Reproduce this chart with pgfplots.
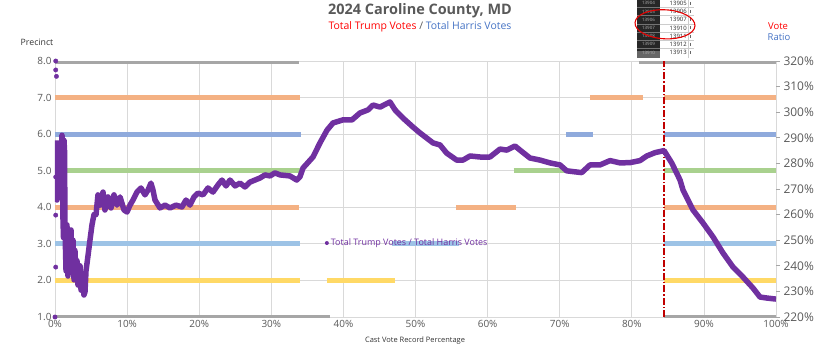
\documentclass[border=0pt]{standalone}
\usepackage{pgfplots}
\pgfplotsset{compat=1.18}
\usepackage{fontspec}
\setmainfont{Open Sans}
\definecolor{txt}{HTML}{595959}
\definecolor{gridc}{HTML}{D9D9D9}
\definecolor{pgray}{HTML}{A6A6A6}
\definecolor{psalmon}{HTML}{F4B183}
\definecolor{pblue}{HTML}{8FAADC}
\definecolor{pgreen}{HTML}{A9D18E}
\definecolor{plblue}{HTML}{9DC3E6}
\definecolor{pyellow}{HTML}{FFD966}
\definecolor{ppurple}{HTML}{7030A0}
\definecolor{pred}{HTML}{C00000}
\definecolor{ttrump}{HTML}{FF0000}
\definecolor{tharris}{HTML}{4472C4}
\begin{document}
\begin{tikzpicture}[x=1bp,y=1bp]
\path[use as bounding box] (-55,-37) rectangle (767,317);
% ---------- left axis: precinct bars ----------
\begin{axis}[
  at={(0,0)}, anchor=south west,
  scale only axis, width=721bp, height=256bp,
  xmin=0, xmax=100, ymin=1, ymax=8,
  xtick={0,10,...,100}, ytick={1,...,8},
  /pgf/number format/assume math mode=true,
  xticklabel={\pgfmathprintnumber{\tick}\%},
  yticklabel style={/pgf/number format/.cd, fixed, fixed zerofill, precision=1},
  ticklabel style={font=\fontsize{10}{12}\selectfont, text=txt},
  grid=major, major grid style={draw=gridc, line width=0.8bp},
  axis line style={draw=none}, tick style={draw=none},
  unbounded coords=jump,
  every axis plot/.append style={line width=5bp, line cap=butt},
]
\addplot[pgray] coordinates {(0,1) (38.1,1) (nan,nan) (84.4,1) (100,1)};
\addplot[pyellow] coordinates {(0,2) (34.0,2) (nan,nan) (37.7,2) (47.2,2) (nan,nan) (84.5,2) (100,2)};
\addplot[plblue] coordinates {(0,3) (34.0,3) (nan,nan) (46.7,3) (56.0,3) (nan,nan) (84.5,3) (100,3)};
\addplot[psalmon] coordinates {(0,4) (33.9,4) (nan,nan) (55.6,4) (64.0,4) (nan,nan) (84.5,4) (100,4)};
\addplot[pgreen] coordinates {(0,5) (34.0,5) (nan,nan) (63.6,5) (71.0,5) (nan,nan) (84.5,5) (100,5)};
\addplot[pblue] coordinates {(0,6) (34.1,6) (nan,nan) (70.9,6) (74.6,6) (nan,nan) (84.5,6) (100,6)};
\addplot[psalmon] coordinates {(0,7) (34.0,7) (nan,nan) (74.2,7) (81.5,7) (nan,nan) (84.5,7) (100,7)};
\addplot[pgray] coordinates {(0,8) (33.9,8) (nan,nan) (81.0,8) (100,8)};
\end{axis}
% ---------- right axis: vote ratio ----------
\begin{axis}[
  at={(0,0)}, anchor=south west,
  scale only axis, width=721bp, height=256bp,
  xmin=0, xmax=100, ymin=220, ymax=320,
  axis x line=none, axis y line*=right,
  y axis line style={draw=none},
  ytick={220,230,...,320},
  /pgf/number format/assume math mode=true,
  yticklabel={\pgfmathprintnumber{\tick}\%},
  ticklabel style={font=\fontsize{12}{14}\selectfont, text=txt},
  tick align=outside, major tick length=4bp,
  ytick style={draw=pgray, line width=0.8bp},
  legend style={at={(0.374,0.289)}, anchor=west, draw=none, fill=none,
    font=\fontsize{9}{10}\selectfont, text=ppurple, inner sep=0pt},
  legend cell align=left,
]
\addplot[pred, line width=2.2bp, dash pattern=on 7bp off 2bp on 1.5bp off 2bp, forget plot]
  coordinates {(84.5,220) (84.5,320)};
\addplot[only marks, mark=*, mark size=2.2bp, color=ppurple, forget plot]
  coordinates {(0.1,320) (0.1,316.5) (0.2,314) (0.0,220) (0.1,239.5) (0.1,259.8) (0.1,274.7)};
\addplot[color=ppurple, line width=5.5bp, line join=round,
  legend image code/.code={\path[fill=ppurple, draw=none] (0.12cm,0cm) circle (2bp);}]
  coordinates {
(0.14,289) (0.28,265.7) (0.42,285) (0.55,277) (0.69,287) (0.83,267.7) (0.97,291)
(1.04,285) (1.11,258) (1.18,251) (1.25,289) (1.32,285) (1.39,254) (1.53,238)
(1.66,256) (1.80,236) (1.94,253) (2.08,240) (2.22,254) (2.36,238) (2.50,250)
(2.64,234.5) (2.77,246) (2.91,236) (3.05,242) (3.19,232.5) (3.47,240) (3.61,230.5)
(3.74,236) (4.02,228.6) (4.16,229.8) (4.30,238) (4.58,244) (4.85,250) (5.13,256)
(5.41,260) (5.69,260) (5.96,267.7) (6.24,263.7) (6.66,268.8) (6.93,261.8) (7.35,266.9)
(7.77,262.6) (8.18,267.7) (8.60,263.7) (9.02,266.9) (9.57,261.8) (9.99,261) (10.40,263.7)
(10.82,265.7) (11.37,268.8) (11.93,270.4) (12.48,267.7) (12.90,269.6) (13.31,272.3)
(13.59,269.6) (13.87,265.7) (14.56,262.6) (15.26,263.7) (15.95,262.6) (16.78,263.7)
(17.61,263) (18.17,265.7) (18.72,263.7) (19.28,266.9) (19.83,268.4) (20.53,267.7)
(21.22,270.4) (21.91,268.8) (22.61,271.6) (23.16,273.5) (23.72,271.2) (24.27,273.5)
(24.97,271.2) (25.66,272.3) (26.35,270.8) (27.05,272.7) (27.74,273.5) (28.43,274.3)
(29.13,275.5) (29.82,275.1) (30.51,276.3) (31.21,275.5) (32.59,275.1) (33.52,273.5)
(33.98,274.8) (34.40,278.2) (35.78,282.5) (36.75,288) (37.73,293) (38.56,295.8)
(39.94,297) (41.19,297) (42.30,299.7) (43.41,300.9) (44.11,302.8) (45.08,302)
(46.46,304) (47.16,300.9) (48.27,297.7) (49.65,294.2) (50.62,291.9) (51.55,289.9)
(52.43,288) (53.40,287.2) (54.33,284) (55.71,281.3) (56.59,281.3) (57.56,282.9)
(58.95,282.5) (60.33,282.5) (61.72,285.6) (62.65,285.2) (63.80,286.8) (64.49,285.2)
(65.88,282.1) (67.27,281.3) (68.65,280.2) (70.04,279.4) (70.97,277.1) (71.84,276.8)
(73.05,276.4) (74.20,279.4) (75.59,279.4) (76.98,281.1) (78.36,280.2) (79.75,280.3)
(81.14,281.1) (82.07,282.9) (83.22,284.2) (84.47,285) (85.53,280.2) (86.69,273.5)
(87.10,269.6) (88.49,261.8) (89.88,256.7) (91.26,251.3) (92.65,245) (94.04,239.5)
(95.42,235.6) (96.81,231.3) (97.78,227.8) (98.75,227.4) (100,227)
  };
\addlegendentry{Total Trump Votes / Total Harris Votes}
\end{axis}
% ---------- titles and labels ----------
\node[font=\bfseries\fontsize{14.5}{16}\selectfont, text=txt] at (365,306) {2024 Caroline County, MD};
\node[font=\fontsize{10.5}{12}\selectfont] at (365,290)
  {\textcolor{ttrump}{Total Trump Votes} \textcolor{txt}{/} \textcolor{tharris}{Total Harris Votes}};
\node[font=\fontsize{8.8}{10}\selectfont, text=black!80] at (-18,275) {Precinct};
\node[font=\fontsize{9.5}{11}\selectfont, text=ttrump] at (723,291) {Vote};
\node[font=\fontsize{9.5}{11}\selectfont, text=tharris] at (724,279.5) {Ratio};
\node[font=\fontsize{7.5}{9}\selectfont, text=black!80] at (360,-24) {Cast Vote Record Percentage};
% ---------- spreadsheet fragment overlay ----------
\fill[black!85] (582,258.7) rectangle (605,317);
\fill[black!60] (582,258.7) rectangle (605,266.5);
\fill[white] (605,258.7) rectangle (639,317);
\foreach \i in {1,...,6} {
  \draw[black!55, line width=0.4bp] (582,{317+0.8-8.2*\i}) -- (605,{317+0.8-8.2*\i});
  \draw[black!20, line width=0.4bp] (605,{317+0.8-8.2*\i}) -- (639,{317+0.8-8.2*\i});
}
\draw[black!20, line width=0.4bp] (633,258.7) -- (633,317);
\foreach \h/\v [count=\i from 0] in {13904/13905,13905/13906,13906/13907,13907/13910,13908/13911,13909/13912,13910/13913} {
  \node[font=\fontsize{4.5}{5}\selectfont, text=black!30] at (593.5,{317-3.3-8.2*\i}) {\h};
  \node[anchor=east, font=\fontsize{6}{7}\selectfont, text=black!85, inner sep=0pt] at (632,{317-3.3-8.2*\i}) {\v};
  \draw[black!60, line width=0.5bp] (635,{317-1.8-8.2*\i}) -- (635,{317-4.8-8.2*\i});
}
\draw[red!90!black, line width=1.1bp, rotate around={-3:(610,292.7)}] (610,292.7) ellipse (30 and 14.5);
\end{tikzpicture}
\end{document}
